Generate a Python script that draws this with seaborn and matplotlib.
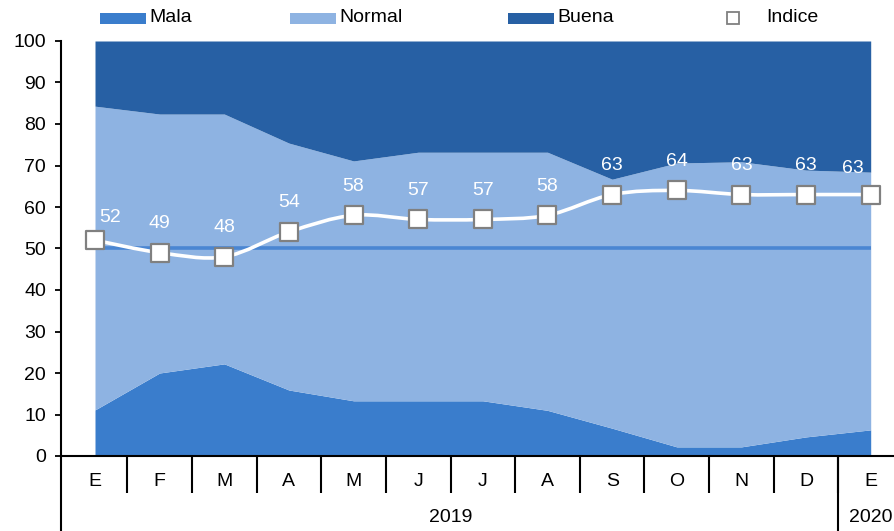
import numpy as np
import pandas as pd
import matplotlib
matplotlib.use("Agg")
import matplotlib.pyplot as plt
from matplotlib.path import Path
from matplotlib.patches import PathPatch, Rectangle
from matplotlib.lines import Line2D
import matplotlib.transforms as mtransforms
import seaborn as sns

# ---- data ----
months = ["E", "F", "M", "A", "M", "J", "J", "A", "S", "O", "N", "D", "E"]
years = ["2019", "2020"]
mala = [11.1, 20.0, 22.2, 15.9, 13.3, 13.3, 13.3, 11.0, 6.7, 2.2, 2.2, 4.6, 6.3]
normal = [73.2, 62.4, 60.2, 59.5, 57.8, 59.9, 59.9, 62.2, 60.0, 68.4, 68.7, 64.3, 62.1]
buena = [15.7, 17.6, 17.6, 24.6, 28.9, 26.8, 26.8, 26.8, 33.3, 29.4, 29.1, 31.1, 31.6]
indice = [52, 49, 48, 54, 58, 57, 57, 58, 63, 64, 63, 63, 63]
referencia = 50

C_MALA = "#3A7DCC"
C_NORMAL = "#8EB3E2"
C_BUENA = "#2760A4"
C_REF = "#4A86D2"
FS = 14

sns.set_theme(style="white")
plt.rcParams["font.family"] = ["Liberation Sans", "DejaVu Sans"]

W, H = 895, 531
fig = plt.figure(figsize=(W / 100, H / 100), dpi=100)
left_px, right_px, top_px, bot_px = 61.5, 895, 41, 456
ax = fig.add_axes([left_px / W, (H - bot_px) / H, (right_px - left_px) / W, (bot_px - top_px) / H])

x = np.arange(len(months))
df = pd.DataFrame({"x": x, "mala": mala, "normal": normal, "buena": buena, "indice": indice})

ax.stackplot(df["x"], df["mala"], df["normal"], df["buena"],
             colors=[C_MALA, C_NORMAL, C_BUENA], linewidth=0, zorder=1)
ax.hlines(referencia, 0, len(months) - 1, color=C_REF, lw=2.6, zorder=2)

# smoothed line (Excel-style Bezier) through the index values
pts = np.column_stack([df["x"].values.astype(float), df["indice"].values.astype(float)])
verts = [tuple(pts[0])]
codes = [Path.MOVETO]
n = len(pts)
for i in range(n - 1):
    p0 = pts[i - 1] if i > 0 else pts[i]
    p1 = pts[i]
    p2 = pts[i + 1]
    p3 = pts[i + 2] if i + 2 < n else pts[i + 1]
    c1 = p1 + (p2 - p0) / 6.0
    c2 = p2 - (p3 - p1) / 6.0
    verts += [tuple(c1), tuple(c2), tuple(p2)]
    codes += [Path.CURVE4] * 3
ax.add_patch(PathPatch(Path(verts, codes), facecolor="none", edgecolor="white", lw=2.6, zorder=3))

sns.scatterplot(data=df, x="x", y="indice", marker="s", s=150, color="white",
                edgecolor="#808080", linewidth=1.6, ax=ax, zorder=4, legend=False)

for i, v in enumerate(indice):
    dx, dy = 0, 21
    if i == 0:
        dx, dy = 11, 16.5
    elif i == n - 1:
        dx, dy = -13, 19
    ax.annotate(str(v), (i, v), xytext=(dx, dy), textcoords="offset points",
                ha="center", va="center", color="white", fontsize=FS, zorder=5)

ax.set_ylim(0, 100)
spacing = (870.7 - 95) / 12
ax.set_xlim(-(95 - left_px) / spacing, (right_px - 95) / spacing)
ax.set_yticks(range(0, 101, 10))
ax.set_xticks(x)
ax.set_xticklabels(months)
ax.set_xticks(np.arange(0.5, 12, 1), minor=True)
ax.tick_params(axis="y", which="major", direction="out", length=4, width=1.3, pad=7,
               labelsize=FS, colors="black", left=True)
ax.tick_params(axis="x", which="major", length=0, pad=12.5, labelsize=FS, colors="black")
ax.tick_params(axis="x", which="minor", direction="out", length=26.5, width=1.5, colors="black", bottom=True)
for s in ["top", "right"]:
    ax.spines[s].set_visible(False)
for s in ["left", "bottom"]:
    ax.spines[s].set_color("black")
    ax.spines[s].set_linewidth(1.5)
ax.set_xlabel("")
ax.set_ylabel("")

# extended separators and year labels
ext = -(H - bot_px) / (bot_px - top_px)
trans = mtransforms.blended_transform_factory(ax.transData, ax.transAxes)
ax.add_line(Line2D([11.5, 11.5], [0, ext], transform=trans, color="black", lw=1.5, clip_on=False))
ax.add_line(Line2D([0, 0], [0, ext], transform=ax.transAxes, color="black", lw=1.5, clip_on=False))
ax.text(5.5, -(518 - bot_px) / (bot_px - top_px), years[0], transform=trans, ha="center",
        va="center", fontsize=FS, color="black")
ax.text(12, -(518 - bot_px) / (bot_px - top_px), years[1], transform=trans, ha="center",
        va="center", fontsize=FS, color="black")

# legend drawn at the top
ly = H - 18
for (x0, lab, col) in [(100, "Mala", C_MALA), (290, "Normal", C_NORMAL), (508, "Buena", C_BUENA)]:
    fig.patches.append(Rectangle((x0 / W, (ly - 5.5) / H), 46 / W, 11 / H, transform=fig.transFigure,
                                 facecolor=col, edgecolor="none"))
    fig.text((x0 + 49) / W, ly / H, lab, ha="left", va="center", fontsize=FS, color="black")
fig.add_artist(Line2D([733 / W], [ly / H], transform=fig.transFigure, marker="s", markersize=8,
                      markerfacecolor="white", markeredgecolor="#808080", markeredgewidth=1.3, ls="none"))
fig.text(766 / W, ly / H, "Indice", ha="left", va="center", fontsize=FS, color="black")

fig.savefig("out.png", dpi=100)
